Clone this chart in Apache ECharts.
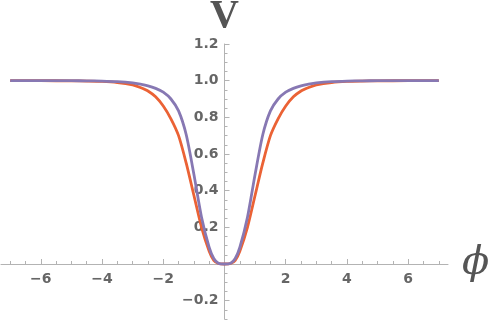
<!DOCTYPE html>
<html>
<head>
<meta charset="utf-8">
<script src="https://cdn.jsdelivr.net/npm/echarts@6/dist/echarts.min.js"></script>
<style>
  html, body { margin: 0; padding: 0; background: #fff; }
  #chart { width: 491px; height: 322px; }
</style>
</head>
<body>
<div id="chart"></div>
<script>
// phi sample points and the two potential curves
const phi = [-7, -6, -5, -4.5, -4, -3.5, -3, -2.75, -2.5, -2.25, -2, -1.75, -1.5, -1.25, -1, -0.75, -0.5, -0.35, -0.2,
  0, 0.2, 0.35, 0.5, 0.75, 1, 1.25, 1.5, 1.75, 2, 2.25, 2.5, 2.75, 3, 3.5, 4, 4.5, 5, 6, 7]
const orangeV = [1, 1, 0.999, 0.998, 0.996, 0.99, 0.977, 0.963, 0.944, 0.912, 0.862, 0.792, 0.70, 0.55, 0.375, 0.2, 0.07, 0.02, 0.003,
  0, 0.003, 0.02, 0.07, 0.2, 0.375, 0.55, 0.70, 0.792, 0.862, 0.912, 0.944, 0.963, 0.977, 0.99, 0.996, 0.998, 0.999, 1, 1]
const purpleV = [1, 1, 1, 0.999, 0.998, 0.995, 0.988, 0.981, 0.972, 0.958, 0.937, 0.9, 0.835, 0.705, 0.49, 0.255, 0.09, 0.03, 0.004,
  0, 0.004, 0.03, 0.09, 0.255, 0.49, 0.705, 0.835, 0.9, 0.937, 0.958, 0.972, 0.981, 0.988, 0.995, 0.998, 0.999, 1, 1, 1]

const xTickLabels = [-6, -4, -2, 2, 4, 6]
const yTickLabels = [-0.2, 0.2, 0.4, 0.6, 0.8, 1.0, 1.2]

let xMinor = []
for (let i = -14; i <= 14; i++) if (i % 4 !== 0) xMinor.push(i / 2)
let yMinor = []
for (let i = -6; i <= 24; i++) if (i % 4 !== 0) yMinor.push(i / 20)

const axisGray = '#b3b3b3'
const labelGray = '#666'
const fmt = (v, d) => {
  const s = Math.abs(v).toFixed(d)
  return v < 0 ? '\u2212' + s : s
}

// plot box, and where the zero lines sit inside it (axes are moved there with offset)
const box = { left: 1, right: 43, top: 44, bottom: 3 }
const xMin = -7.3, xMax = 7.3, yMin = -0.3, yMax = 1.2
const plotW = 491 - box.left - box.right
const plotH = 322 - box.top - box.bottom
const xAxisOffset = -plotH * (0 - yMin) / (yMax - yMin)
const yAxisOffset = -plotW * (0 - xMin) / (xMax - xMin)

let myChart = echarts.init(document.getElementById('chart'), null, { renderer: 'canvas' })

const gridBox = Object.assign({ containLabel: false, outerBoundsMode: 'none' }, box)

const xBase = (gridIndex) => ({
  type: 'value',
  gridIndex: gridIndex,
  min: xMin,
  max: xMax,
  position: 'bottom',
  offset: xAxisOffset,
  splitLine: { show: false },
  axisLine: { show: gridIndex === 0, onZero: false, lineStyle: { color: axisGray, width: 1 } }
})
const yBase = (gridIndex) => ({
  type: 'value',
  gridIndex: gridIndex,
  min: yMin,
  max: yMax,
  position: 'left',
  offset: yAxisOffset,
  splitLine: { show: false },
  axisLine: { show: gridIndex === 0, onZero: false, lineStyle: { color: axisGray, width: 1 } }
})

const labelStyle = {
  color: labelGray,
  fontFamily: 'DejaVu Sans',
  fontWeight: 'bold',
  fontSize: 14
}

let option = {
  animation: false,
  grid: [gridBox, Object.assign({}, gridBox)],
  xAxis: [
    Object.assign(xBase(0), {
      name: '\u03d5',
      nameLocation: 'end',
      nameGap: 14,
      nameTextStyle: { fontFamily: 'DejaVu Serif', fontStyle: 'italic', fontSize: 40, color: '#555', verticalAlign: 'middle' },
      axisTick: { inside: true, length: 5, customValues: xTickLabels, lineStyle: { color: axisGray } },
      axisLabel: Object.assign({ customValues: xTickLabels, margin: 8, formatter: v => fmt(v, 0) }, labelStyle)
    }),
    Object.assign(xBase(1), {
      axisTick: { inside: true, length: 3, customValues: xMinor, lineStyle: { color: axisGray } },
      axisLabel: { show: false }
    })
  ],
  yAxis: [
    Object.assign(yBase(0), {
      name: 'V',
      nameLocation: 'end',
      nameGap: 6,
      nameTextStyle: { fontFamily: 'Liberation Serif', fontWeight: 'bold', fontSize: 40, color: '#555' },
      axisTick: { inside: true, length: 5, customValues: yTickLabels, lineStyle: { color: axisGray } },
      axisLabel: Object.assign({ customValues: yTickLabels, margin: 6, formatter: v => fmt(v, 1) }, labelStyle)
    }),
    Object.assign(yBase(1), {
      axisTick: { inside: true, length: 3, customValues: yMinor, lineStyle: { color: axisGray } },
      axisLabel: { show: false }
    })
  ],
  series: [
    {
      name: 'orange',
      type: 'line',
      xAxisIndex: 0,
      yAxisIndex: 0,
      data: phi.map((p, i) => [p, orangeV[i]]),
      showSymbol: false,
      smooth: 0.25,
      lineStyle: { color: '#EB6235', width: 2.8 }
    },
    {
      name: 'purple',
      type: 'line',
      xAxisIndex: 0,
      yAxisIndex: 0,
      data: phi.map((p, i) => [p, purpleV[i]]),
      showSymbol: false,
      smooth: 0.25,
      lineStyle: { color: '#8778B3', width: 2.8 }
    }
  ]
}
myChart.setOption(option)
</script>
</body>
</html>
